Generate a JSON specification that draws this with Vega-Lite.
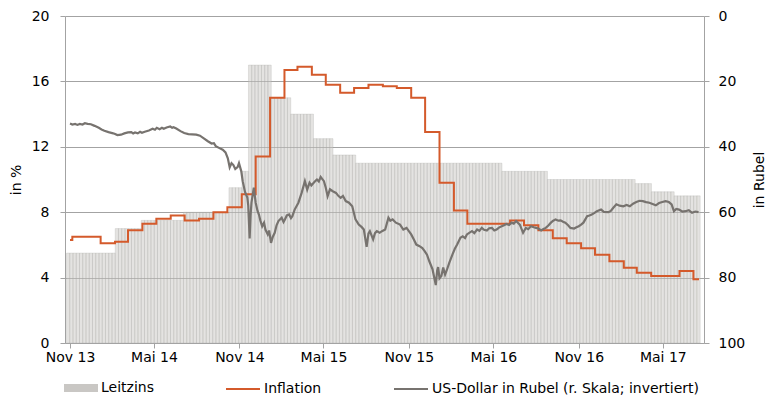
{
  "$schema": "https://vega.github.io/schema/vega-lite/v6.json",
  "width": 639,
  "height": 327,
  "autosize": {"type": "none"},
  "padding": {"left": 65, "top": 16, "right": 61, "bottom": 54},
  "background": "#ffffff",
  "datasets": {
    "leitzins": [
      {"d": "2013-10-28", "v": 5.5},
      {"d": "2013-11-04", "v": 5.5}, {"d": "2013-11-11", "v": 5.5}, {"d": "2013-11-18", "v": 5.5}, {"d": "2013-11-25", "v": 5.5},
      {"d": "2013-12-02", "v": 5.5}, {"d": "2013-12-09", "v": 5.5}, {"d": "2013-12-16", "v": 5.5}, {"d": "2013-12-23", "v": 5.5},
      {"d": "2013-12-30", "v": 5.5}, {"d": "2014-01-06", "v": 5.5}, {"d": "2014-01-13", "v": 5.5}, {"d": "2014-01-20", "v": 5.5},
      {"d": "2014-01-27", "v": 5.5}, {"d": "2014-02-03", "v": 5.5},
      {"d": "2014-02-10", "v": 7.0}, {"d": "2014-02-17", "v": 7.0}, {"d": "2014-02-24", "v": 7.0}, {"d": "2014-03-03", "v": 7.0},
      {"d": "2014-03-10", "v": 7.0}, {"d": "2014-03-17", "v": 7.0}, {"d": "2014-03-24", "v": 7.0}, {"d": "2014-03-31", "v": 7.0},
      {"d": "2014-04-07", "v": 7.5}, {"d": "2014-04-14", "v": 7.5}, {"d": "2014-04-21", "v": 7.5}, {"d": "2014-04-28", "v": 7.5},
      {"d": "2014-05-05", "v": 7.5}, {"d": "2014-05-12", "v": 7.5}, {"d": "2014-05-19", "v": 7.5}, {"d": "2014-05-26", "v": 7.5},
      {"d": "2014-06-02", "v": 7.5}, {"d": "2014-06-09", "v": 7.5}, {"d": "2014-06-16", "v": 7.5}, {"d": "2014-06-23", "v": 7.5},
      {"d": "2014-06-30", "v": 7.5},
      {"d": "2014-07-07", "v": 8.0}, {"d": "2014-07-14", "v": 8.0}, {"d": "2014-07-21", "v": 8.0}, {"d": "2014-07-28", "v": 8.0},
      {"d": "2014-08-04", "v": 8.0}, {"d": "2014-08-11", "v": 8.0}, {"d": "2014-08-18", "v": 8.0}, {"d": "2014-08-25", "v": 8.0},
      {"d": "2014-09-01", "v": 8.0}, {"d": "2014-09-08", "v": 8.0}, {"d": "2014-09-15", "v": 8.0}, {"d": "2014-09-22", "v": 8.0},
      {"d": "2014-09-29", "v": 8.0}, {"d": "2014-10-06", "v": 8.0},
      {"d": "2014-10-13", "v": 9.5}, {"d": "2014-10-20", "v": 9.5}, {"d": "2014-10-27", "v": 9.5}, {"d": "2014-11-03", "v": 9.5},
      {"d": "2014-11-10", "v": 10.5}, {"d": "2014-11-17", "v": 10.5},
      {"d": "2014-11-24", "v": 17.0}, {"d": "2014-12-01", "v": 17.0}, {"d": "2014-12-08", "v": 17.0}, {"d": "2014-12-15", "v": 17.0},
      {"d": "2014-12-22", "v": 17.0}, {"d": "2014-12-29", "v": 17.0}, {"d": "2015-01-05", "v": 17.0},
      {"d": "2015-01-12", "v": 15.0}, {"d": "2015-01-19", "v": 15.0}, {"d": "2015-01-26", "v": 15.0}, {"d": "2015-02-02", "v": 15.0},
      {"d": "2015-02-09", "v": 15.0}, {"d": "2015-02-16", "v": 15.0},
      {"d": "2015-02-23", "v": 14.0}, {"d": "2015-03-02", "v": 14.0}, {"d": "2015-03-09", "v": 14.0}, {"d": "2015-03-16", "v": 14.0},
      {"d": "2015-03-23", "v": 14.0}, {"d": "2015-03-30", "v": 14.0}, {"d": "2015-04-06", "v": 14.0},
      {"d": "2015-04-13", "v": 12.5}, {"d": "2015-04-20", "v": 12.5}, {"d": "2015-04-27", "v": 12.5}, {"d": "2015-05-04", "v": 12.5},
      {"d": "2015-05-11", "v": 12.5}, {"d": "2015-05-18", "v": 12.5},
      {"d": "2015-05-25", "v": 11.5}, {"d": "2015-06-01", "v": 11.5}, {"d": "2015-06-08", "v": 11.5}, {"d": "2015-06-15", "v": 11.5},
      {"d": "2015-06-22", "v": 11.5}, {"d": "2015-06-29", "v": 11.5}, {"d": "2015-07-06", "v": 11.5},
      {"d": "2015-07-13", "v": 11.0}, {"d": "2015-07-20", "v": 11.0}, {"d": "2015-07-27", "v": 11.0}, {"d": "2015-08-03", "v": 11.0},
      {"d": "2015-08-10", "v": 11.0}, {"d": "2015-08-17", "v": 11.0}, {"d": "2015-08-24", "v": 11.0}, {"d": "2015-08-31", "v": 11.0},
      {"d": "2015-09-07", "v": 11.0}, {"d": "2015-09-14", "v": 11.0}, {"d": "2015-09-21", "v": 11.0}, {"d": "2015-09-28", "v": 11.0},
      {"d": "2015-10-05", "v": 11.0}, {"d": "2015-10-12", "v": 11.0}, {"d": "2015-10-19", "v": 11.0}, {"d": "2015-10-26", "v": 11.0},
      {"d": "2015-11-02", "v": 11.0}, {"d": "2015-11-09", "v": 11.0}, {"d": "2015-11-16", "v": 11.0}, {"d": "2015-11-23", "v": 11.0},
      {"d": "2015-11-30", "v": 11.0}, {"d": "2015-12-07", "v": 11.0}, {"d": "2015-12-14", "v": 11.0}, {"d": "2015-12-21", "v": 11.0},
      {"d": "2015-12-28", "v": 11.0}, {"d": "2016-01-04", "v": 11.0}, {"d": "2016-01-11", "v": 11.0}, {"d": "2016-01-18", "v": 11.0},
      {"d": "2016-01-25", "v": 11.0}, {"d": "2016-02-01", "v": 11.0}, {"d": "2016-02-08", "v": 11.0}, {"d": "2016-02-15", "v": 11.0},
      {"d": "2016-02-22", "v": 11.0}, {"d": "2016-02-29", "v": 11.0}, {"d": "2016-03-07", "v": 11.0}, {"d": "2016-03-14", "v": 11.0},
      {"d": "2016-03-21", "v": 11.0}, {"d": "2016-03-28", "v": 11.0}, {"d": "2016-04-04", "v": 11.0}, {"d": "2016-04-11", "v": 11.0},
      {"d": "2016-04-18", "v": 11.0}, {"d": "2016-04-25", "v": 11.0}, {"d": "2016-05-02", "v": 11.0}, {"d": "2016-05-09", "v": 11.0},
      {"d": "2016-05-16", "v": 11.0},
      {"d": "2016-05-23", "v": 10.5}, {"d": "2016-05-30", "v": 10.5}, {"d": "2016-06-06", "v": 10.5}, {"d": "2016-06-13", "v": 10.5},
      {"d": "2016-06-20", "v": 10.5}, {"d": "2016-06-27", "v": 10.5}, {"d": "2016-07-04", "v": 10.5}, {"d": "2016-07-11", "v": 10.5},
      {"d": "2016-07-18", "v": 10.5}, {"d": "2016-07-25", "v": 10.5}, {"d": "2016-08-01", "v": 10.5}, {"d": "2016-08-08", "v": 10.5},
      {"d": "2016-08-15", "v": 10.5}, {"d": "2016-08-22", "v": 10.5},
      {"d": "2016-08-29", "v": 10.0}, {"d": "2016-09-05", "v": 10.0}, {"d": "2016-09-12", "v": 10.0}, {"d": "2016-09-19", "v": 10.0},
      {"d": "2016-09-26", "v": 10.0}, {"d": "2016-10-03", "v": 10.0}, {"d": "2016-10-10", "v": 10.0}, {"d": "2016-10-17", "v": 10.0},
      {"d": "2016-10-24", "v": 10.0}, {"d": "2016-10-31", "v": 10.0}, {"d": "2016-11-07", "v": 10.0}, {"d": "2016-11-14", "v": 10.0},
      {"d": "2016-11-21", "v": 10.0}, {"d": "2016-11-28", "v": 10.0}, {"d": "2016-12-05", "v": 10.0}, {"d": "2016-12-12", "v": 10.0},
      {"d": "2016-12-19", "v": 10.0}, {"d": "2016-12-26", "v": 10.0}, {"d": "2017-01-02", "v": 10.0}, {"d": "2017-01-09", "v": 10.0},
      {"d": "2017-01-16", "v": 10.0}, {"d": "2017-01-23", "v": 10.0}, {"d": "2017-01-30", "v": 10.0}, {"d": "2017-02-06", "v": 10.0},
      {"d": "2017-02-13", "v": 10.0}, {"d": "2017-02-20", "v": 10.0}, {"d": "2017-02-27", "v": 10.0},
      {"d": "2017-03-06", "v": 9.75}, {"d": "2017-03-13", "v": 9.75}, {"d": "2017-03-20", "v": 9.75}, {"d": "2017-03-27", "v": 9.75},
      {"d": "2017-04-03", "v": 9.75},
      {"d": "2017-04-10", "v": 9.25}, {"d": "2017-04-17", "v": 9.25}, {"d": "2017-04-24", "v": 9.25}, {"d": "2017-05-01", "v": 9.25},
      {"d": "2017-05-08", "v": 9.25}, {"d": "2017-05-15", "v": 9.25}, {"d": "2017-05-22", "v": 9.25},
      {"d": "2017-05-29", "v": 9.0}, {"d": "2017-06-05", "v": 9.0}, {"d": "2017-06-12", "v": 9.0}, {"d": "2017-06-19", "v": 9.0},
      {"d": "2017-06-26", "v": 9.0}, {"d": "2017-07-03", "v": 9.0}, {"d": "2017-07-10", "v": 9.0}, {"d": "2017-07-17", "v": 9.0}
    ],
    "inflation": [
      {"d": "2013-11-01", "v": 6.3}, {"d": "2013-11-06", "v": 6.5}, {"d": "2013-12-06", "v": 6.5},
      {"d": "2014-01-06", "v": 6.1}, {"d": "2014-02-06", "v": 6.2}, {"d": "2014-03-06", "v": 6.9}, {"d": "2014-04-06", "v": 7.3},
      {"d": "2014-05-06", "v": 7.6}, {"d": "2014-06-06", "v": 7.8}, {"d": "2014-07-06", "v": 7.5}, {"d": "2014-08-06", "v": 7.6},
      {"d": "2014-09-06", "v": 8.0}, {"d": "2014-10-06", "v": 8.3}, {"d": "2014-11-06", "v": 9.1}, {"d": "2014-12-06", "v": 11.4},
      {"d": "2015-01-06", "v": 15.0}, {"d": "2015-02-06", "v": 16.7}, {"d": "2015-03-06", "v": 16.9}, {"d": "2015-04-06", "v": 16.4},
      {"d": "2015-05-06", "v": 15.8}, {"d": "2015-06-06", "v": 15.3}, {"d": "2015-07-06", "v": 15.6}, {"d": "2015-08-06", "v": 15.8},
      {"d": "2015-09-06", "v": 15.7}, {"d": "2015-10-06", "v": 15.6}, {"d": "2015-11-06", "v": 15.0}, {"d": "2015-12-06", "v": 12.9},
      {"d": "2016-01-06", "v": 9.8}, {"d": "2016-02-06", "v": 8.1}, {"d": "2016-03-06", "v": 7.3}, {"d": "2016-04-06", "v": 7.3},
      {"d": "2016-05-06", "v": 7.3}, {"d": "2016-06-06", "v": 7.5}, {"d": "2016-07-06", "v": 7.2}, {"d": "2016-08-06", "v": 6.9},
      {"d": "2016-09-06", "v": 6.4}, {"d": "2016-10-06", "v": 6.1}, {"d": "2016-11-06", "v": 5.8}, {"d": "2016-12-06", "v": 5.4},
      {"d": "2017-01-06", "v": 5.0}, {"d": "2017-02-06", "v": 4.6}, {"d": "2017-03-06", "v": 4.3}, {"d": "2017-04-06", "v": 4.1},
      {"d": "2017-05-06", "v": 4.1}, {"d": "2017-06-06", "v": 4.4}, {"d": "2017-07-06", "v": 3.9}, {"d": "2017-07-18", "v": 3.9}
    ],
    "usd": [
      {"d": "2013-11-01", "v": 32.9}, {"d": "2013-11-06", "v": 33.2}, {"d": "2013-11-12", "v": 33.0}, {"d": "2013-11-17", "v": 33.3},
      {"d": "2013-11-22", "v": 33.0}, {"d": "2013-11-28", "v": 33.2}, {"d": "2013-12-03", "v": 32.8}, {"d": "2013-12-09", "v": 33.0},
      {"d": "2013-12-16", "v": 33.1}, {"d": "2013-12-24", "v": 33.6}, {"d": "2014-01-02", "v": 34.2}, {"d": "2014-01-08", "v": 34.7},
      {"d": "2014-01-14", "v": 35.1}, {"d": "2014-01-23", "v": 35.5}, {"d": "2014-01-31", "v": 35.8}, {"d": "2014-02-05", "v": 36.0},
      {"d": "2014-02-11", "v": 36.4}, {"d": "2014-02-19", "v": 36.3}, {"d": "2014-02-26", "v": 35.9}, {"d": "2014-03-06", "v": 35.6},
      {"d": "2014-03-13", "v": 35.5}, {"d": "2014-03-17", "v": 35.9}, {"d": "2014-03-21", "v": 35.6}, {"d": "2014-03-27", "v": 35.9},
      {"d": "2014-04-01", "v": 35.4}, {"d": "2014-04-05", "v": 35.7}, {"d": "2014-04-11", "v": 35.4}, {"d": "2014-04-20", "v": 35.0},
      {"d": "2014-04-28", "v": 34.5}, {"d": "2014-05-03", "v": 34.8}, {"d": "2014-05-07", "v": 34.2}, {"d": "2014-05-13", "v": 34.6},
      {"d": "2014-05-18", "v": 34.2}, {"d": "2014-05-22", "v": 34.5}, {"d": "2014-05-28", "v": 34.1}, {"d": "2014-06-05", "v": 33.8},
      {"d": "2014-06-09", "v": 34.2}, {"d": "2014-06-12", "v": 34.0}, {"d": "2014-06-18", "v": 34.4}, {"d": "2014-06-27", "v": 35.2},
      {"d": "2014-07-05", "v": 35.8}, {"d": "2014-07-14", "v": 36.1}, {"d": "2014-07-22", "v": 36.2}, {"d": "2014-07-31", "v": 36.3},
      {"d": "2014-08-08", "v": 36.6}, {"d": "2014-08-17", "v": 37.5}, {"d": "2014-08-25", "v": 38.3}, {"d": "2014-09-02", "v": 39.0},
      {"d": "2014-09-07", "v": 38.9}, {"d": "2014-09-11", "v": 39.8}, {"d": "2014-09-19", "v": 40.4}, {"d": "2014-09-26", "v": 40.9},
      {"d": "2014-10-02", "v": 41.7}, {"d": "2014-10-07", "v": 43.5}, {"d": "2014-10-11", "v": 46.3}, {"d": "2014-10-15", "v": 45.0},
      {"d": "2014-10-19", "v": 45.6}, {"d": "2014-10-23", "v": 46.8}, {"d": "2014-10-28", "v": 46.2}, {"d": "2014-10-31", "v": 45.0},
      {"d": "2014-11-05", "v": 47.5}, {"d": "2014-11-08", "v": 50.5}, {"d": "2014-11-13", "v": 53.8}, {"d": "2014-11-18", "v": 55.5},
      {"d": "2014-11-20", "v": 58.0}, {"d": "2014-11-23", "v": 68.0}, {"d": "2014-11-25", "v": 61.0}, {"d": "2014-11-27", "v": 57.0},
      {"d": "2014-12-02", "v": 52.5}, {"d": "2014-12-06", "v": 57.1}, {"d": "2014-12-10", "v": 59.6}, {"d": "2014-12-13", "v": 60.7},
      {"d": "2014-12-16", "v": 62.5}, {"d": "2014-12-20", "v": 64.3}, {"d": "2014-12-24", "v": 63.2}, {"d": "2014-12-27", "v": 65.3},
      {"d": "2015-01-01", "v": 66.8}, {"d": "2015-01-04", "v": 65.6}, {"d": "2015-01-08", "v": 69.4}, {"d": "2015-01-12", "v": 67.5},
      {"d": "2015-01-16", "v": 66.3}, {"d": "2015-01-20", "v": 64.0}, {"d": "2015-01-24", "v": 62.7}, {"d": "2015-01-31", "v": 61.7},
      {"d": "2015-02-04", "v": 63.0}, {"d": "2015-02-07", "v": 62.2}, {"d": "2015-02-11", "v": 61.0}, {"d": "2015-02-16", "v": 60.7},
      {"d": "2015-02-20", "v": 61.8}, {"d": "2015-02-23", "v": 61.2}, {"d": "2015-02-28", "v": 59.2}, {"d": "2015-03-08", "v": 57.1},
      {"d": "2015-03-15", "v": 54.1}, {"d": "2015-03-22", "v": 50.5}, {"d": "2015-03-27", "v": 53.1}, {"d": "2015-04-01", "v": 51.0},
      {"d": "2015-04-05", "v": 51.8}, {"d": "2015-04-10", "v": 51.0}, {"d": "2015-04-14", "v": 50.4}, {"d": "2015-04-17", "v": 50.0},
      {"d": "2015-04-21", "v": 50.6}, {"d": "2015-04-25", "v": 49.2}, {"d": "2015-05-02", "v": 50.5}, {"d": "2015-05-06", "v": 52.5},
      {"d": "2015-05-10", "v": 55.1}, {"d": "2015-05-15", "v": 53.0}, {"d": "2015-05-21", "v": 53.6}, {"d": "2015-05-28", "v": 54.1},
      {"d": "2015-06-02", "v": 55.0}, {"d": "2015-06-07", "v": 55.6}, {"d": "2015-06-12", "v": 55.0}, {"d": "2015-06-18", "v": 56.6},
      {"d": "2015-06-25", "v": 57.1}, {"d": "2015-07-02", "v": 58.2}, {"d": "2015-07-09", "v": 62.2}, {"d": "2015-07-16", "v": 63.8},
      {"d": "2015-07-22", "v": 64.5}, {"d": "2015-07-27", "v": 65.3}, {"d": "2015-08-02", "v": 70.6}, {"d": "2015-08-06", "v": 66.5},
      {"d": "2015-08-09", "v": 65.8}, {"d": "2015-08-16", "v": 68.3}, {"d": "2015-08-20", "v": 66.4}, {"d": "2015-08-24", "v": 65.8},
      {"d": "2015-08-30", "v": 66.3}, {"d": "2015-09-04", "v": 65.8}, {"d": "2015-09-11", "v": 65.3}, {"d": "2015-09-18", "v": 61.7},
      {"d": "2015-09-22", "v": 62.6}, {"d": "2015-09-27", "v": 62.2}, {"d": "2015-10-04", "v": 63.2}, {"d": "2015-10-13", "v": 63.8},
      {"d": "2015-10-20", "v": 65.3}, {"d": "2015-10-27", "v": 64.8}, {"d": "2015-11-01", "v": 65.8}, {"d": "2015-11-06", "v": 66.8},
      {"d": "2015-11-12", "v": 68.4}, {"d": "2015-11-17", "v": 69.9}, {"d": "2015-11-24", "v": 70.4}, {"d": "2015-11-30", "v": 71.0},
      {"d": "2015-12-05", "v": 71.9}, {"d": "2015-12-10", "v": 73.0}, {"d": "2015-12-15", "v": 75.0}, {"d": "2015-12-22", "v": 77.5},
      {"d": "2015-12-29", "v": 82.3}, {"d": "2016-01-01", "v": 77.8}, {"d": "2016-01-03", "v": 76.8}, {"d": "2016-01-06", "v": 80.2},
      {"d": "2016-01-10", "v": 79.5}, {"d": "2016-01-14", "v": 76.9}, {"d": "2016-01-18", "v": 79.1}, {"d": "2016-01-22", "v": 77.6},
      {"d": "2016-01-27", "v": 75.5}, {"d": "2016-02-03", "v": 72.9}, {"d": "2016-02-08", "v": 71.2}, {"d": "2016-02-13", "v": 69.9},
      {"d": "2016-02-20", "v": 67.8}, {"d": "2016-02-25", "v": 67.4}, {"d": "2016-03-01", "v": 67.9}, {"d": "2016-03-05", "v": 66.8},
      {"d": "2016-03-10", "v": 66.3}, {"d": "2016-03-16", "v": 65.8}, {"d": "2016-03-21", "v": 66.4}, {"d": "2016-03-27", "v": 65.3},
      {"d": "2016-04-01", "v": 65.7}, {"d": "2016-04-06", "v": 64.8}, {"d": "2016-04-11", "v": 65.4}, {"d": "2016-04-17", "v": 65.6},
      {"d": "2016-04-22", "v": 64.9}, {"d": "2016-04-28", "v": 64.8}, {"d": "2016-05-03", "v": 65.6}, {"d": "2016-05-08", "v": 65.3},
      {"d": "2016-05-13", "v": 64.7}, {"d": "2016-05-19", "v": 64.3}, {"d": "2016-05-24", "v": 64.0}, {"d": "2016-05-29", "v": 63.6},
      {"d": "2016-06-04", "v": 63.9}, {"d": "2016-06-09", "v": 63.2}, {"d": "2016-06-14", "v": 63.5}, {"d": "2016-06-19", "v": 62.7},
      {"d": "2016-06-27", "v": 63.8}, {"d": "2016-07-04", "v": 66.3}, {"d": "2016-07-10", "v": 64.8}, {"d": "2016-07-15", "v": 65.2},
      {"d": "2016-07-21", "v": 64.3}, {"d": "2016-07-27", "v": 64.6}, {"d": "2016-08-01", "v": 64.8}, {"d": "2016-08-06", "v": 65.0},
      {"d": "2016-08-12", "v": 65.6}, {"d": "2016-08-17", "v": 65.1}, {"d": "2016-08-22", "v": 64.8}, {"d": "2016-08-28", "v": 64.0},
      {"d": "2016-09-02", "v": 63.2}, {"d": "2016-09-07", "v": 62.6}, {"d": "2016-09-12", "v": 62.2}, {"d": "2016-09-18", "v": 62.6},
      {"d": "2016-09-23", "v": 62.5}, {"d": "2016-09-28", "v": 62.9}, {"d": "2016-10-03", "v": 63.2}, {"d": "2016-10-09", "v": 64.0},
      {"d": "2016-10-14", "v": 64.8}, {"d": "2016-10-22", "v": 65.0}, {"d": "2016-10-27", "v": 64.6}, {"d": "2016-11-01", "v": 64.3},
      {"d": "2016-11-06", "v": 63.8}, {"d": "2016-11-11", "v": 63.2}, {"d": "2016-11-19", "v": 61.2}, {"d": "2016-11-24", "v": 61.0},
      {"d": "2016-11-29", "v": 60.7}, {"d": "2016-12-05", "v": 60.2}, {"d": "2016-12-10", "v": 59.7}, {"d": "2016-12-19", "v": 59.2},
      {"d": "2016-12-25", "v": 59.9}, {"d": "2017-01-04", "v": 60.0}, {"d": "2017-01-09", "v": 59.6}, {"d": "2017-01-14", "v": 58.7},
      {"d": "2017-01-21", "v": 57.6}, {"d": "2017-01-28", "v": 58.0}, {"d": "2017-02-05", "v": 58.2}, {"d": "2017-02-12", "v": 57.8},
      {"d": "2017-02-19", "v": 58.2}, {"d": "2017-02-26", "v": 57.4}, {"d": "2017-03-05", "v": 56.9}, {"d": "2017-03-12", "v": 56.5},
      {"d": "2017-03-19", "v": 56.6}, {"d": "2017-03-26", "v": 56.9}, {"d": "2017-04-02", "v": 57.1}, {"d": "2017-04-09", "v": 57.5},
      {"d": "2017-04-16", "v": 57.9}, {"d": "2017-04-23", "v": 57.2}, {"d": "2017-04-30", "v": 56.9}, {"d": "2017-05-07", "v": 56.6},
      {"d": "2017-05-14", "v": 56.9}, {"d": "2017-05-20", "v": 57.6}, {"d": "2017-05-25", "v": 59.7}, {"d": "2017-05-30", "v": 59.0},
      {"d": "2017-06-05", "v": 59.2}, {"d": "2017-06-12", "v": 59.8}, {"d": "2017-06-19", "v": 59.7}, {"d": "2017-06-26", "v": 59.4},
      {"d": "2017-07-03", "v": 60.2}, {"d": "2017-07-10", "v": 59.8}, {"d": "2017-07-17", "v": 60.0}
    ]
  },
  "encoding": {
    "x": {
      "field": "d",
      "type": "temporal",
      "scale": {
        "type": "utc",
        "domain": [
          {"year": 2013, "month": 11, "date": 1, "utc": true},
          {"year": 2017, "month": 7, "date": 18, "utc": true}
        ]
      },
      "axis": {
        "title": null,
        "grid": false,
        "values": [
          {"year": 2013, "month": 11, "date": 1, "utc": true},
          {"year": 2014, "month": 5, "date": 1, "utc": true},
          {"year": 2014, "month": 11, "date": 1, "utc": true},
          {"year": 2015, "month": 5, "date": 1, "utc": true},
          {"year": 2015, "month": 11, "date": 1, "utc": true},
          {"year": 2016, "month": 5, "date": 1, "utc": true},
          {"year": 2016, "month": 11, "date": 1, "utc": true},
          {"year": 2017, "month": 5, "date": 1, "utc": true}
        ],
        "labelExpr": "(utcmonth(datum.value) == 4 ? 'Mai' : 'Nov') + ' ' + utcFormat(datum.value, '%y')",
        "labelFlush": false,
        "labelOverlap": false,
        "labelPadding": 2,
        "tickSize": 5
      }
    }
  },
  "layer": [
    {
      "encoding": {
        "y": {
          "field": "v",
          "type": "quantitative",
          "scale": {"domain": [0, 20], "nice": false, "zero": true},
          "axis": {
            "title": "in %",
            "titleX": -49,
            "titleY": 163.5,
            "titleAngle": 270,
            "titleAlign": "center",
            "titleBaseline": "middle",
            "values": [0, 4, 8, 12, 16, 20],
            "grid": true,
            "labelPadding": 11,
            "tickSize": 5
          }
        }
      },
      "layer": [
        {
          "data": {"name": "leitzins"},
          "mark": {
            "type": "bar",
            "width": 3.3,
            "clip": true,
            "fillOpacity": 0.5,
            "stroke": "#aaa8a5",
            "strokeOpacity": 0.45,
            "strokeWidth": 0.6
          },
          "encoding": {
            "fill": {
              "datum": "Leitzins",
              "type": "nominal",
              "scale": {"domain": ["Leitzins"], "range": ["#c9c7c4"]},
              "legend": {
                "orient": "none",
                "legendX": -1,
                "legendY": 355,
                "direction": "horizontal",
                "title": null,
                "padding": 0,
                "labelFont": "DejaVu Sans",
                "labelFontSize": 14,
                "labelColor": "#000000",
                "labelOffset": 3,
                "labelLimit": 400,
                "symbolType": "M-1,-0.24H1V0.24H-1Z",
                "symbolSize": 1156,
                "symbolStrokeWidth": 0,
                "symbolOpacity": 1
              }
            }
          }
        },
        {
          "data": {"name": "inflation"},
          "mark": {"type": "line", "interpolate": "step-after", "strokeWidth": 2, "clip": true},
          "encoding": {
            "stroke": {
              "datum": "Inflation",
              "type": "nominal",
              "scale": {
                "domain": ["Inflation", "US-Dollar in Rubel (r. Skala; invertiert)"],
                "range": ["#d45a2b", "#77736f"]
              },
              "legend": {
                "orient": "none",
                "legendX": 160,
                "legendY": 355,
                "direction": "horizontal",
                "title": null,
                "padding": 0,
                "columnPadding": 68,
                "labelFont": "DejaVu Sans",
                "labelFontSize": 14,
                "labelColor": "#000000",
                "labelOffset": 3,
                "labelLimit": 400,
                "symbolType": "stroke",
                "symbolSize": 1156,
                "symbolStrokeWidth": 2,
                "symbolOpacity": 1
              }
            }
          }
        }
      ]
    },
    {
      "data": {"name": "usd"},
      "mark": {"type": "line", "strokeWidth": 2.2, "clip": true},
      "encoding": {
        "y": {
          "field": "v",
          "type": "quantitative",
          "scale": {"domain": [0, 100], "nice": false, "reverse": true},
          "axis": {
            "orient": "right",
            "title": "in Rubel",
            "titleX": 55,
            "titleY": 163.5,
            "titleAngle": 270,
            "titleAlign": "center",
            "titleBaseline": "middle",
            "values": [0, 20, 40, 60, 80, 100],
            "grid": false,
            "labelPadding": 9,
            "tickSize": 5
          }
        },
        "stroke": {"datum": "US-Dollar in Rubel (r. Skala; invertiert)", "type": "nominal"}
      }
    }
  ],
  "resolve": {"scale": {"y": "independent"}},
  "config": {
    "view": {"stroke": null},
    "font": "DejaVu Sans",
    "axis": {
      "labelFont": "DejaVu Sans",
      "labelFontSize": 14,
      "labelColor": "#000000",
      "titleFont": "DejaVu Sans",
      "titleFontSize": 14,
      "titleFontWeight": "normal",
      "titleColor": "#000000",
      "domainColor": "#a3a3a3",
      "domainWidth": 1,
      "tickColor": "#a3a3a3",
      "gridColor": "#a3a3a3",
      "gridWidth": 1
    }
  }
}
